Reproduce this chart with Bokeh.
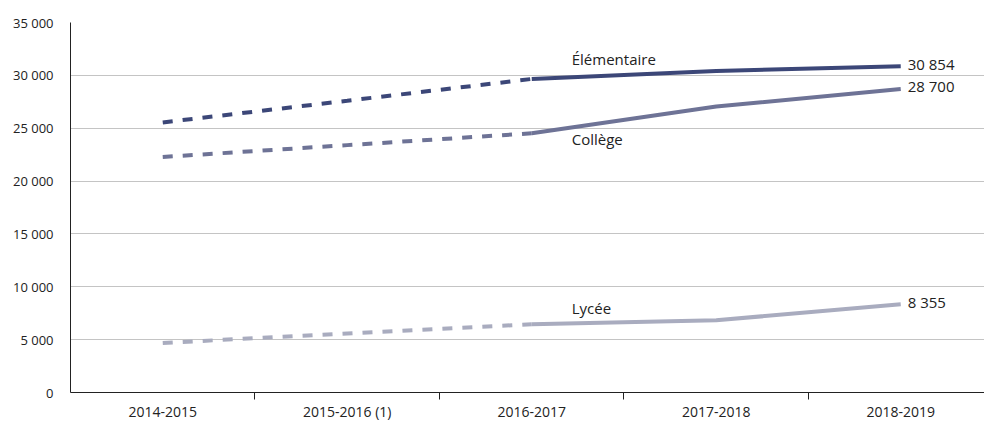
from bokeh.plotting import figure
from bokeh.models import Range1d, FixedTicker
from bokeh.core.properties import value
from bokeh.embed import file_html
from bokeh.resources import INLINE

years = ["2014-2015", "2015-2016 (1)", "2016-2017", "2017-2018", "2018-2019"]
elementaire = [25550, 27600, 29660, 30410, 30854]
college = [22280, 23400, 24520, 27050, 28700]
lycee = [4690, 5580, 6460, 6830, 8355]
series_names = ["Élémentaire", "Collège", "Lycée"]
y_ticks = [0, 5000, 10000, 15000, 20000, 25000, 30000, 35000]

colors = ["#3c4778", "#6e7396", "#a9acbf"]
FONT = "Open Sans"


def fmt(v):
    return f"{v:,}".replace(",", " ")


xs = list(range(len(years)))

p = figure(width=984, height=423, output_backend="svg", toolbar_location=None,
           x_range=Range1d(-0.5, 4.454), y_range=Range1d(0, 35000),
           min_border_left=70, min_border_right=0, min_border_top=22,
           min_border_bottom=28)
p.outline_line_color = None
p.background_fill_color = "white"
p.border_fill_color = "white"

# axes
p.xaxis.ticker = FixedTicker(ticks=xs, minor_ticks=[i + 0.5 for i in xs[:-1]])
p.xaxis.major_label_overrides = {i: y for i, y in enumerate(years)}
p.xaxis.major_tick_line_color = None
p.xaxis.major_tick_out = 0
p.xaxis.major_tick_in = 0
p.xaxis.minor_tick_line_color = "#222222"
p.xaxis.minor_tick_out = 7
p.xaxis.minor_tick_in = 0
p.xaxis.axis_line_color = "#222222"
p.xaxis.major_label_standoff = 2
p.xaxis.major_label_text_font = FONT
p.xaxis.major_label_text_font_size = "14px"
p.xaxis.major_label_text_color = "#222222"

p.yaxis.ticker = FixedTicker(ticks=y_ticks)
p.yaxis.major_label_overrides = {t: fmt(t) for t in y_ticks}
p.yaxis.major_tick_line_color = None
p.yaxis.minor_tick_line_color = None
p.yaxis.major_tick_out = 0
p.yaxis.major_tick_in = 0
p.yaxis.axis_line_color = "#222222"
p.yaxis.major_label_standoff = 17
p.yaxis.major_label_text_font = FONT
p.yaxis.major_label_text_font_size = "13px"
p.yaxis.major_label_text_color = "#222222"

p.xgrid.grid_line_color = None
p.ygrid.ticker = FixedTicker(ticks=y_ticks[1:])
p.ygrid.grid_line_color = "#c4c4c4"
p.ygrid.grid_line_width = 1.2

all_series = [elementaire, college, lycee]
for vals, col in zip(all_series, colors):
    p.line(xs[:3], vals[:3], line_color=col, line_width=4, line_dash="10 10")
    p.line(xs[2:], vals[2:], line_color=col, line_width=4)

# series names
name_offsets = [-20, 6, -16]
for vals, name, dy in zip(all_series, series_names, name_offsets):
    p.text(x=[2], y=[vals[2]], text=[name], x_offset=40, y_offset=dy,
           text_font=value(FONT), text_font_size="15px", text_color="#222222",
           text_baseline="middle", text_align="left")

# end values
end_offsets = [-2, -3, -2]
for vals, dy in zip(all_series, end_offsets):
    p.text(x=[4], y=[vals[4]], text=[fmt(vals[4])], x_offset=7, y_offset=dy,
           text_font=value(FONT), text_font_size="15px", text_color="#222222",
           text_baseline="middle", text_align="left")

open("out.html", "w").write(file_html(p, INLINE))
